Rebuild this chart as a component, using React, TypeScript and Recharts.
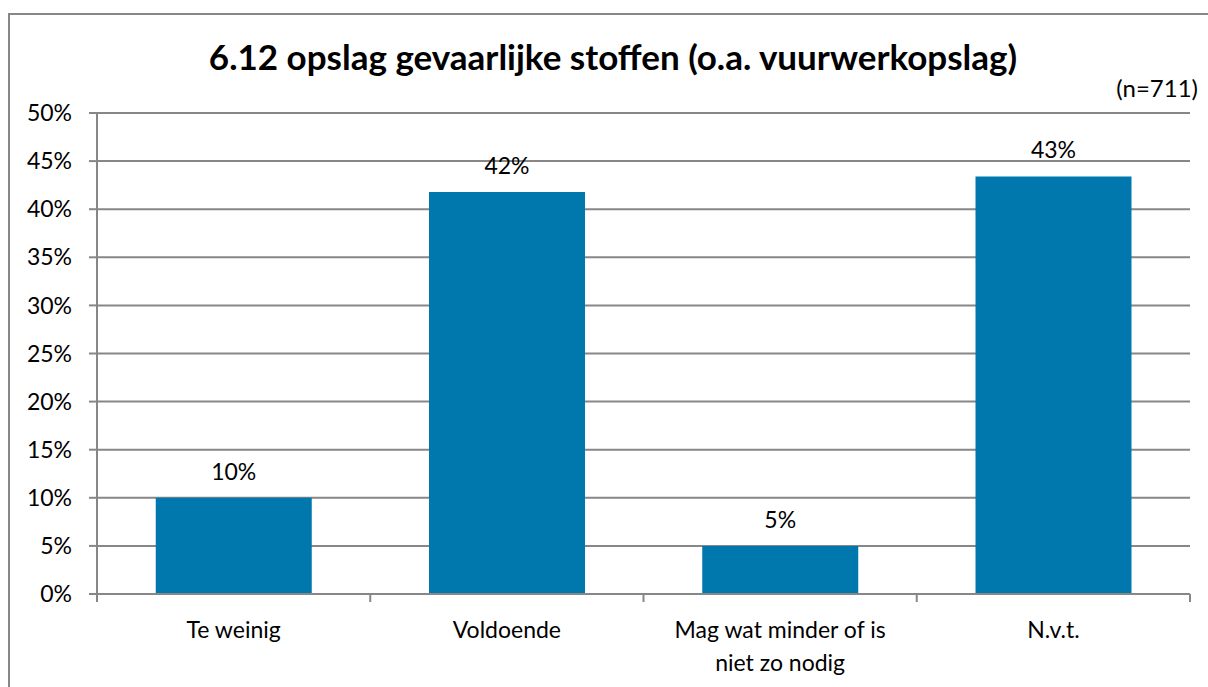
import React from "react";
import { BarChart, Bar, XAxis, YAxis, CartesianGrid, LabelList } from "recharts";

const TITLE = "6.12 opslag gevaarlijke stoffen (o.a. vuurwerkopslag)";
const SUBTITLE = "(n=711)";
const categories = ["Te weinig", "Voldoende", "Mag wat minder of is niet zo nodig", "N.v.t."];
const values = [10.0, 41.8, 5.0, 43.4];
const yTicks = [0, 5, 10, 15, 20, 25, 30, 35, 40, 45, 50];

const data = categories.map((c, i) => ({ name: c, value: values[i] }));

const W = 1208;
const H = 687;
const M = { top: 113, right: 18, left: 0, bottom: 0 };
const Y_W = 97;
const X_H = 93;
const PLOT_W = W - M.left - M.right - Y_W;
const BAND = PLOT_W / categories.length;
const FONT = "Lato, 'DejaVu Sans', sans-serif";
const AXIS = "#878787";
const BAR = "#0077AD";
const FS = 23;

function wrap(s: string, max: number): string[] {
  const words = s.split(" ");
  const lines: string[] = [];
  let cur = "";
  for (const w of words) {
    const t = cur ? cur + " " + w : w;
    if (t.length > max && cur) {
      lines.push(cur);
      cur = w;
    } else cur = t;
  }
  if (cur) lines.push(cur);
  return lines;
}

const XTick = (props: any) => {
  const { x, y, payload, index } = props;
  const lines = wrap(String(payload.value), 20);
  return (
    <g>
      {index === 0 && <line x1={x - BAND / 2} x2={x - BAND / 2} y1={y} y2={y + 8} stroke={AXIS} strokeWidth={2} />}
      <line x1={x + BAND / 2} x2={x + BAND / 2} y1={y} y2={y + 8} stroke={AXIS} strokeWidth={2} />
      {lines.map((l, i) => (
        <text key={i} x={x} y={y + 44 + i * 33} textAnchor="middle" fontFamily={FONT} fontSize={FS} fill="#000">
          {l}
        </text>
      ))}
    </g>
  );
};

const BarLabel = (props: any) => {
  const { x, y, width, value } = props;
  return (
    <text x={x + width / 2} y={y - 18} textAnchor="middle" fontFamily={FONT} fontSize={FS} fill="#000">
      {Math.round(value)}%
    </text>
  );
};

export default function App() {
  return (
    <div style={{ position: "absolute", left: 0, top: 0, width: W, height: H, background: "#fff", overflow: "hidden" }}>
      <div
        style={{
          position: "absolute",
          left: 8,
          top: 13,
          width: W,
          height: H,
          borderLeft: `2px solid ${AXIS}`,
          borderTop: `2px solid ${AXIS}`,
        }}
      />
      <div
        style={{
          position: "absolute",
          left: 0,
          width: 1226,
          top: 35,
          textAlign: "center",
          fontFamily: FONT,
          fontWeight: 700,
          fontSize: 35,
          lineHeight: "42px",
          color: "#000",
        }}
      >
        {TITLE}
      </div>
      <div
        style={{
          position: "absolute",
          right: 10,
          top: 73,
          fontFamily: FONT,
          fontSize: 24,
          lineHeight: "30px",
          color: "#000",
        }}
      >
        {SUBTITLE}
      </div>
      <div style={{ position: "absolute", left: 0, top: 0 }}>
        <BarChart width={W} height={H} data={data} margin={M} barCategoryGap="21.5%">
          <CartesianGrid vertical={false} stroke={AXIS} strokeWidth={2} />
          <XAxis
            dataKey="name"
            height={X_H}
            axisLine={{ stroke: AXIS, strokeWidth: 2 }}
            tickLine={false}
            tickSize={0}
            tickMargin={0}
            interval={0}
            tick={<XTick />}
          />
          <YAxis
            width={Y_W}
            domain={[0, 50]}
            ticks={yTicks}
            interval={0}
            axisLine={{ stroke: AXIS, strokeWidth: 2 }}
            tickLine={{ stroke: AXIS, strokeWidth: 2 }}
            tickSize={8}
            tickMargin={17}
            tickFormatter={(v: number) => `${v}%`}
            tick={{ fontFamily: FONT, fontSize: FS, fill: "#000" }}
          />
          <Bar dataKey="value" fill={BAR} isAnimationActive={false}>
            <LabelList dataKey="value" content={<BarLabel />} />
          </Bar>
        </BarChart>
      </div>
    </div>
  );
}
